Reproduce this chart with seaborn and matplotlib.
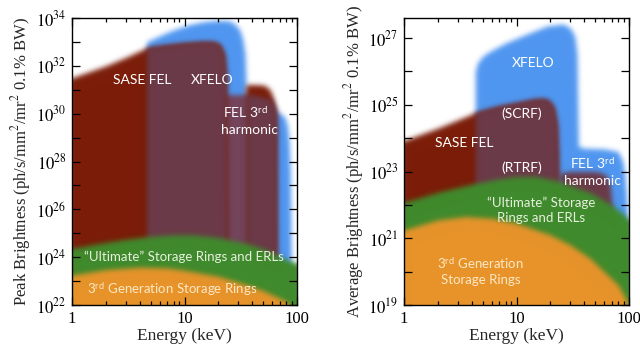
import numpy as np
import matplotlib
matplotlib.use('Agg')
import matplotlib.pyplot as plt
from matplotlib.colors import to_rgb
from matplotlib.patches import Rectangle
from matplotlib.ticker import LogLocator, FuncFormatter, NullLocator, NullFormatter
import seaborn as sns

# ---- peak brightness panel (energy in keV, brightness as log10) ----
peak_xfelo_e = [4.6, 6, 8, 11, 15, 20, 25, 28, 31, 33, 34.5, 35, 35.5, 45, 58, 63, 66, 72, 78, 82, 85, 87, 88, 88.7]
peak_xfelo_top = [33.0, 33.25, 33.5, 33.72, 33.85, 33.9, 33.88, 33.75, 33.5, 33.1, 32.5, 31.6, 30.8, 30.75, 30.6, 30.3, 30.05, 30.0, 29.85, 29.5, 28.8, 27.5, 25.5, 23.5]
peak_sase_e = [1, 2, 3, 4.6, 7, 10, 14, 18, 20.5, 22.5, 23.5, 24]
peak_sase_top = [31.5, 32.0, 32.35, 32.75, 32.87, 32.95, 33.0, 33.0, 32.9, 32.5, 31.5, 23.0]
peak_band_e = [21, 37]
peak_band_top = [30.8, 30.8]
peak_harm_e = [35, 40, 50, 55, 59, 62, 64.5, 65.5, 66]
peak_harm_top = [31.2, 31.22, 31.2, 31.1, 30.9, 30.6, 30.2, 29.5, 23.0]
peak_ult_e = [1, 2, 3, 5, 8, 12, 20, 35, 50, 70, 85, 100]
peak_ult_top = [24.37, 24.62, 24.75, 24.87, 24.93, 24.93, 24.82, 24.58, 24.35, 24.05, 23.85, 23.75]
peak_3g_e = [1, 2, 4, 7, 10, 20, 35, 50, 65, 80, 90, 95]
peak_3g_top = [23.25, 23.48, 23.58, 23.55, 23.45, 23.2, 22.85, 22.6, 22.35, 22.15, 21.9, 21.5]

# ---- average brightness panel ----
avg_xfelo_e = [4.3, 4.5, 5, 5.8, 8, 12, 18.7, 26, 30, 33, 34.5, 35, 35.5, 40, 60, 80, 88, 92, 95, 97]
avg_xfelo_top = [26.0, 26.25, 26.45, 26.6, 26.85, 27.1, 27.36, 27.42, 27.3, 27.05, 26.5, 25.0, 23.75, 23.7, 23.68, 23.6, 23.3, 22.9, 22.3, 21.5]
avg_sase_e = [1, 2, 4.3, 7, 10, 14, 17, 19.5, 21.5, 22.8, 23.3, 23.6]
avg_sase_top = [23.93, 24.3, 24.76, 24.95, 25.05, 25.15, 25.18, 25.12, 24.9, 24.4, 23.5, 22.0]
avg_harm_e = [24, 30, 40, 50, 58, 64, 68, 70, 71.5, 72]
avg_harm_top = [22.95, 23.0, 23.0, 23.0, 22.95, 22.85, 22.6, 22.2, 21.6, 21.0]
avg_ult_e = [1, 1.5, 2, 4, 7, 10, 15, 23, 45, 70, 90, 100]
avg_ult_top = [22.08, 22.25, 22.38, 22.62, 22.78, 22.85, 22.85, 22.72, 22.37, 22.0, 21.72, 21.55]
avg_3g_e = [1, 2, 3.5, 6, 10, 20, 30, 45, 60, 80, 95, 100]
avg_3g_top = [21.25, 21.55, 21.65, 21.6, 21.45, 21.1, 20.8, 20.4, 20.0, 19.6, 19.15, 18.9]

peak_labels = [('SASE FEL', 4.2, 31.4), ('XFELO', 17.7, 31.4),
               ('FEL 3$^{\\mathregular{rd}}$', 35, 30.05), ('harmonic', 37.6, 29.33)]
peak_ring_labels = [('\u201cUltimate\u201d Storage Rings and ERLs', 9.8, 24.0),
                    ('3$^{\\mathregular{rd}}$ Generation Storage Rings', 7.7, 22.67)]
avg_labels = [('XFELO', 14, 26.25), ('(SCRF)', 11.2, 24.73), ('SASE FEL', 3.4, 23.84),
              ('(RTRF)', 11.2, 23.12), ('FEL 3$^{\\mathregular{rd}}$', 47, 23.24), ('harmonic', 47, 22.73)]
avg_ring_labels = [('\u201cUltimate\u201d Storage', 16.5, 22.07), ('Rings and ERLs', 16.5, 21.6),
                   ('3$^{\\mathregular{rd}}$ Generation', 4.8, 20.25), ('Storage Rings', 4.8, 19.75)]

RED = '#7a1c08'
MAUVE = '#6b3a48'
BAND = '#74445a'
BLUE = '#4f96f0'
GREEN = '#3f8a2c'
ORANGE = '#e8932a'

sns.set_theme(style='ticks')
plt.rcParams['font.family'] = ['Liberation Serif']
plt.rcParams['mathtext.fontset'] = 'stix'


def soft_edge(color, sigma=1.8):
    rgb = np.array(to_rgb(color))
    r = int(3 * sigma) + 1
    k = np.exp(-0.5 * (np.arange(-r, r + 1) / sigma) ** 2)
    k /= k.sum()

    def f(im, dpi):
        p = r + 1
        a = np.pad(im[:, :, 3], p)
        for axis in (0, 1):
            a = sum(w * np.roll(a, i - r, axis=axis) for i, w in enumerate(k))
        out = np.empty(a.shape + (4,))
        out[..., :3] = rgb
        out[..., 3] = np.clip(a, 0, 1)
        return out, -p, -p
    return f


def region(ax, e, top, color, ylo, lo=None, hi=None):
    e = np.asarray(e, float)
    t = np.asarray(top, float)
    if e[0] <= 1:
        e, t = np.r_[0.93, e], np.r_[t[0], t]
    if e[-1] >= 100:
        e, t = np.r_[e, 108], np.r_[t, t[-1]]
    mask = np.ones_like(e, bool)
    if lo is not None:
        mask &= e >= lo
    if hi is not None:
        mask &= e <= hi
    pc = ax.fill_between(e, 10.0 ** (ylo - 0.4), 10.0 ** t, where=mask,
                         color=color, lw=0, clip_on=False, zorder=1)
    pc.set_agg_filter(soft_edge(color))


def frame(ax, ylo, yhi, even):
    ax.set_xscale('log')
    ax.set_yscale('log')
    ax.set_xlim(1, 100)
    ax.set_ylim(10.0 ** ylo, 10.0 ** yhi)
    ax.xaxis.set_major_locator(LogLocator(base=10, numticks=10))
    ax.xaxis.set_minor_locator(LogLocator(base=10, subs=np.arange(2, 10), numticks=10))
    ax.xaxis.set_minor_formatter(NullFormatter())
    ax.xaxis.set_major_formatter(FuncFormatter(lambda v, p: f'{v:g}'))
    ax.yaxis.set_major_locator(LogLocator(base=10, subs=(1.0,), numticks=30))
    ax.yaxis.set_minor_locator(NullLocator())

    def yfmt(v, p):
        n = int(round(np.log10(v)))
        return f'$10^{{{n}}}$' if (n % 2 == 0) == even else ''
    ax.yaxis.set_major_formatter(FuncFormatter(yfmt))
    ax.tick_params(which='both', direction='in', top=True, right=True,
                   colors='black', labelsize=12, width=0.9)
    ax.tick_params(which='major', length=6, pad=4)
    ax.tick_params(which='minor', length=3)
    for s in ax.spines.values():
        s.set_color('black')
        s.set_linewidth(1.0)
    ax.set_axisbelow(False)
    # white margins hide the soft edges that spill past the frame
    for xy, w, h in [((-0.09, -0.12), 0.09, 1.24), ((1.0, -0.12), 0.09, 1.24),
                     ((-0.09, -0.12), 1.18, 0.12), ((-0.09, 1.0), 1.18, 0.05)]:
        ax.add_patch(Rectangle(xy, w, h, transform=ax.transAxes, facecolor='white',
                               edgecolor='none', clip_on=False, zorder=2))
    ax.set_xlabel('Energy (keV)', fontsize=12.5, labelpad=1)


def labels(ax, items, color, size):
    for s, x, y in items:
        ax.text(x, 10.0 ** y, s, color=color, fontsize=size, family=['Lato', 'DejaVu Sans'],
                ha='center', va='center', zorder=3)


fig = plt.figure(figsize=(6.4, 3.5), dpi=100)
ax1 = fig.add_axes([72 / 640, 45 / 350, 225 / 640, 287 / 350])
ax2 = fig.add_axes([404 / 640, 45 / 350, 225 / 640, 287 / 350])

# peak panel
region(ax1, peak_xfelo_e, peak_xfelo_top, BLUE, 22)
region(ax1, peak_band_e, peak_band_top, BAND, 22)
region(ax1, peak_sase_e, peak_sase_top, RED, 22)
region(ax1, peak_harm_e, peak_harm_top, RED, 22)
region(ax1, peak_sase_e, peak_sase_top, MAUVE, 22, lo=4.6)
region(ax1, peak_xfelo_e, peak_xfelo_top, MAUVE, 22, lo=35.5, hi=66)
region(ax1, peak_ult_e, peak_ult_top, GREEN, 22)
region(ax1, peak_3g_e, peak_3g_top, ORANGE, 22)
frame(ax1, 22, 34, even=True)
ax1.set_ylabel('Peak Brightness (ph/s/mm$^2$/mr$^2$ 0.1% BW)', fontsize=12, labelpad=2)
labels(ax1, peak_labels, 'white', 10)
labels(ax1, peak_ring_labels[:1], '#e6f0dc', 9.5)
labels(ax1, peak_ring_labels[1:], '#fde8c4', 9.5)

# average panel
region(ax2, avg_xfelo_e, avg_xfelo_top, BLUE, 19)
region(ax2, avg_sase_e, avg_sase_top, RED, 19)
region(ax2, avg_sase_e, avg_sase_top, MAUVE, 19, lo=4.3)
region(ax2, avg_harm_e, avg_harm_top, MAUVE, 19)
region(ax2, avg_ult_e, avg_ult_top, GREEN, 19)
region(ax2, avg_3g_e, avg_3g_top, ORANGE, 19)
frame(ax2, 19, 27.6, even=False)
ax2.set_ylabel('Average Brightness (ph/s/mm$^2$/mr$^2$ 0.1% BW)', fontsize=12, labelpad=2)
labels(ax2, avg_labels, 'white', 10)
labels(ax2, avg_ring_labels[:2], '#e6f0dc', 9.5)
labels(ax2, avg_ring_labels[2:], '#fde8c4', 9.5)

fig.savefig('out.png', dpi=100)
